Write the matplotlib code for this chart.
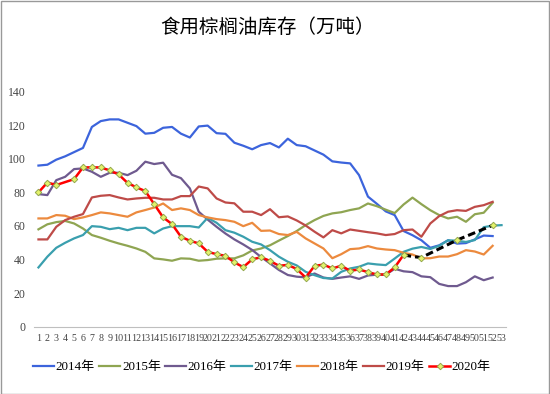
import numpy as np
import matplotlib.pyplot as plt
from matplotlib.patches import Rectangle

plt.rcParams['font.family'] = ['Liberation Serif', 'Noto Sans CJK SC']

title = "食用棕榈油库存（万吨）"
years = ["2014年", "2015年", "2016年", "2017年", "2018年", "2019年", "2020年"]

s2014 = [96, 96.5, 99.5, 101.5, 104, 106.5, 119, 122.5, 123.5, 123.5, 121.5, 119.5, 115, 115.5,
         118.5, 119, 115, 112.7, 119.3, 119.8, 115.3, 114.9, 109.6, 107.8, 105.7, 108.2, 109.4,
         106.8, 112, 108.2, 107.5, 105, 102.5, 98.5, 97.8, 97.3, 90.3, 77.5, 73.2, 68.7, 66.5,
         57, 54.5, 51.5, 47, 48.5, 51.5, 49.5, 49.8, 52, 54.3, 54]
s2015 = [58, 61, 62.3, 63, 61.5, 58.5, 54.6, 53, 51.2, 49.6, 48.2, 46.6, 44.6, 40.7, 40.1,
         39.3, 40.7, 40.5, 39.3, 39.7, 40.5, 40.7, 40.7, 42.5, 45.4, 46.6, 48.5,
         51.3, 54, 57, 60.5, 63.5, 66, 67.5, 68.2, 69.5, 70.5, 73.4, 71.8, 69.7, 67.7,
         72.8, 76.9, 73, 69.4, 66.5, 64.5, 65.5, 62.5, 67, 67.9, 73.8]
s2016 = [79, 78.4, 87.3, 89.3, 93.9, 94.3, 92.3, 89.3, 91.7, 91.7, 90.3, 92.9, 98.3, 96.9, 97.7,
         90.5, 88.5, 82.4, 68.5, 63.8, 59.5, 55.5, 52, 49, 45.7, 41.5, 37.7, 33.8, 30.8, 29.8, 29.4,
         31.7, 29.3, 28.5, 29.3, 30, 28.5, 30.5, 31, 31, 34.5, 33, 32.5, 30, 29.5, 25.5, 24.2,
         24.2, 26.5, 30, 27.7, 29.3]
s2017 = [35.3, 41.7, 47, 50, 52.6, 54.6, 59.9, 59.5, 58.1, 58.9, 57.5, 58.9, 58.9, 55.6, 58.5,
         59.9, 59.9, 59.9, 59.1, 64.9, 61.9, 57.5, 56, 53.6, 50.6, 49, 45.6, 41.7, 38.7, 36.5,
         32.7, 30.7, 29, 28.7, 32.7, 34.7, 35.7, 37.7, 37.1, 36.7, 40.6, 44.6, 46.5, 47.5, 46.3,
         48.2, 51.5, 51.2, 50.5, 51.6, 59.3, 60.2, 60.5]
s2018 = [64.5, 64.5, 66.5, 66.1, 64.1, 65.1, 66.5, 68.1, 67.5, 66.5, 65.5, 68.1, 69.5, 71, 73.4,
         69.5, 70.5, 69.5, 66.5, 65.1, 64.1, 63.5, 62.5, 59.9, 61.9, 57.1, 57.3, 55.2, 54.6, 56.5,
         52.6, 49.6, 46.6, 40.8, 43.2, 46.2, 46.6, 48, 46.6, 46, 45.6, 44, 43, 40.7, 40.8, 41.8,
         41.8, 43.2, 45.6, 44.8, 43, 48.2]
s2019 = [52, 52, 59.5, 63.5, 65.5, 67.1, 77, 78, 78.4, 77, 75.8, 76.4, 76.8, 76.8, 75.8,
         75.8, 77.8, 77.8, 83.5, 82.4, 76.4, 74, 73.5, 68.5, 68.5, 66.5, 70, 65.2, 65.7, 63.3,
         60.3, 56.6, 53.2, 57.5, 55.6, 57.9, 57.1, 56.3, 55.6, 54.6, 55.2, 57.5, 57.9, 53.6,
         61.5, 65.9, 68.5, 69.4, 69, 71.4, 72.4, 74.4]
s2020 = [80, 85.9, 84.4, np.nan, 87.9, 94.9, 94.9, 94.9, 93.1, 90.7, 85.7, 83, 80.8, 73, 65.1,
         61.1, 53.6, 51.2, 49.6, 44.6, 43.2, 42.2, 38.3, 35.5, 40.1, 41.4, 39.2, 36.3, 36.8,
         34.4, 29.3, 36.2, 37, 34.7, 36.3, 33.3, 34.1, 32.5, 31.1, 31.1, 35.3, 42.8]
fc_weeks = [42, 43, 44, 48, 52]
fc_vals = [42.8, 41.8, 41.2, 51.6, 60.4]

colors = ['#3c64dc', '#8fa552', '#6f5a8f', '#3a9fae', '#ec8a3e', '#be4b48', '#ff0000']

fig = plt.figure(figsize=(5.5, 3.94), dpi=100)
fig.patches.append(Rectangle((0.001, 0.001), 0.997, 0.997, transform=fig.transFigure,
                             fill=False, edgecolor='#999999', linewidth=1))
ax = fig.add_axes([34 / 550, 1 - 326.7 / 394, 472 / 550, 235 / 394])

for vals, c, lab in zip([s2014, s2015, s2016, s2017, s2018, s2019], colors, years):
    w = np.arange(1, len(vals) + 1)
    ax.plot(w, vals, color=c, lw=1.6, label=lab)

v20 = np.array(s2020)
w20 = np.arange(1, len(v20) + 1)
ok = ~np.isnan(v20)
mk = dict(marker='D', ms=3.3, mfc='#e4f26a', mec='#93a84e', mew=0.7)
ax.plot(fc_weeks, fc_vals, color='black', lw=2.2, ls=(0, (2.5, 1.3)), zorder=4)
ax.plot(fc_weeks[2:], fc_vals[2:], ls='none', zorder=5, **mk)
ax.plot(w20[ok], v20[ok], color='#ff0000', lw=1.8, label=years[6], zorder=5, **mk)

ax.set_xlim(0.5, 53.5)
ax.set_ylim(0, 140)
ax.set_xticks(np.arange(1, 54))
ax.set_xticklabels([str(i) for i in range(1, 54)], fontsize=7.2)
ax.set_yticks(np.arange(0, 141, 20))
ax.tick_params(axis='y', length=0, pad=6, labelsize=8.5, colors='#444444')
ax.tick_params(axis='x', length=0, pad=5, colors='#444444')
for s in ['top', 'right', 'left']:
    ax.spines[s].set_visible(False)
ax.spines['bottom'].set_color('#bfbfbf')

fig.text(268 / 550, 1 - 27 / 394, title, ha='center', va='center', fontsize=14,
         family=['Noto Sans CJK SC'])

ax.legend(loc='center', bbox_to_anchor=(262 / 550, 1 - 367 / 394),
          bbox_transform=fig.transFigure, ncol=7, frameon=False, fontsize=9.4,
          handlelength=1.6, handletextpad=0.12, columnspacing=0.35, numpoints=1,
          borderaxespad=0)

fig.savefig('out.png', dpi=100)
